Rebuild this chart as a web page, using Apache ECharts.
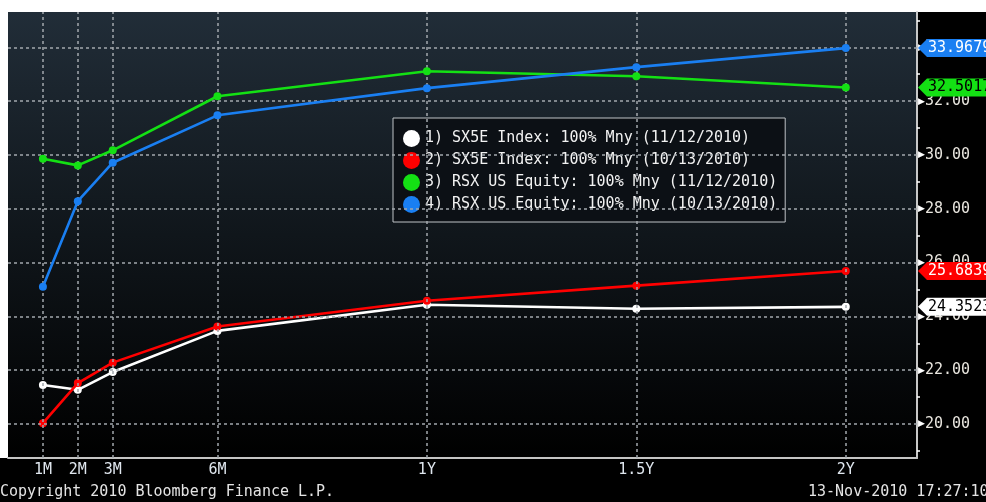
<!DOCTYPE html>
<html>
<head>
<meta charset="utf-8">
<script src="https://cdn.jsdelivr.net/npm/echarts@6/dist/echarts.min.js"></script>
<style>
html,body{margin:0;padding:0;background:#000;}
#chart{width:986px;height:502px;}
</style>
</head>
<body>
<div id="chart"></div>
<script>
// ---- data ----
var tenorMonths = [1, 2, 3, 6, 12, 18, 24];
var tenorLabels = ['1M', '2M', '3M', '6M', '1Y', '1.5Y', '2Y'];
var seriesNames = [
  '1) SX5E Index: 100% Mny (11/12/2010)',
  '2) SX5E Index: 100% Mny (10/13/2010)',
  '3) RSX US Equity: 100% Mny (11/12/2010)',
  '4) RSX US Equity: 100% Mny (10/13/2010)'
];
var sx5eNov = [21.45, 21.27, 21.93, 23.46, 24.43, 24.28, 24.3523];
var sx5eOct = [20.03, 21.52, 22.28, 23.62, 24.58, 25.14, 25.6839];
var rsxNov  = [29.86, 29.61, 30.17, 32.18, 33.11, 32.92, 32.5017];
var rsxOct  = [25.10, 28.28, 29.71, 31.47, 32.48, 33.26, 33.9679];
var yTickValues = [20, 22, 24, 26, 28, 30, 32, 34];
var yMinorTickValues = [19, 21, 23, 25, 27, 29, 31, 33, 35];
var footerLeft = 'Copyright 2010 Bloomberg Finance L.P.';
var footerRight = '13-Nov-2010 17:27:10';

// ---- styles ----
var X_MIN = 0, X_MAX = 26.04, Y_MIN = 18.736, Y_MAX = 35.31;
var MONO = '"DejaVu Sans Mono", "Liberation Mono", monospace';
var colors = ['#ffffff', '#ff0000', '#14e014', '#1a7ff2'];
var tagText = ['#000000', '#ffffff', '#000000', '#ffffff'];
var allData = [sx5eNov, sx5eOct, rsxNov, rsxOct];

function pairs(vals) {
  return tenorMonths.map(function (m, i) { return [m, vals[i]]; });
}

var series = allData.map(function (vals, i) {
  var last = vals[vals.length - 1];
  return {
    name: seriesNames[i],
    type: 'line',
    data: pairs(vals),
    color: colors[i],
    symbol: 'circle',
    symbolSize: 8,
    z: 3 + i,
    lineStyle: { width: 2.6, color: colors[i] },
    itemStyle: { color: colors[i] },
    animation: false,
    markPoint: {
      silent: true,
      symbol: 'path://M0,9 L9,0 L110,0 L110,18 L9,18 Z',
      symbolSize: [110, 18],
      symbolKeepAspect: false,
      symbolOffset: [56, 0],
      itemStyle: { color: colors[i] },
      label: {
        show: true,
        position: 'insideLeft',
        distance: 10,
        overflow: 'none',
        color: tagText[i],
        fontFamily: MONO,
        fontSize: 15,
        formatter: function () { return last.toFixed(4); }
      },
      data: [{ coord: [X_MAX, last] }],
      z: 10
    }
  };
});

// grid lines drawn through the scales
series.unshift({
  name: 'grid',
  type: 'line',
  data: [],
  z: 1,
  silent: true,
  animation: false,
  markLine: {
    silent: true,
    symbol: ['none', 'none'],
    animation: false,
    label: { show: false },
    lineStyle: { color: '#a3a8ad', width: 1.5, type: [3, 3] },
    data: tenorMonths.map(function (m) { return { xAxis: m }; })
      .concat(yTickValues.map(function (v) { return { yAxis: v }; }))
  }
});

var chart = echarts.init(document.getElementById('chart'));
chart.setOption({
  backgroundColor: '#000000',
  animation: false,
  grid: {
    left: 8, right: 69, top: 12, bottom: 44,
    show: true, borderWidth: 0,
    backgroundColor: new echarts.graphic.LinearGradient(0, 0, 0, 1, [
      { offset: 0, color: '#212d38' },
      { offset: 0.5, color: '#10161b' },
      { offset: 1, color: '#000000' }
    ])
  },
  legend: {
    data: seriesNames,
    orient: 'vertical',
    left: 393, top: 118,
    padding: [12, 8, 9, 10],
    itemGap: 5,
    itemWidth: 17, itemHeight: 17,
    icon: 'circle',
    selectedMode: false,
    backgroundColor: '#0c1015',
    borderColor: '#bfc3c7',
    borderWidth: 1,
    textStyle: { color: '#f2f2f2', fontFamily: MONO, fontSize: 15 }
  },
  xAxis: {
    type: 'value', min: X_MIN, max: X_MAX,
    axisLine: { show: true, lineStyle: { color: '#c4c4c4', width: 2 } },
    axisTick: { show: false },
    splitLine: { show: false },
    axisLabel: {
      customValues: tenorMonths,
      color: '#dfe6ee', fontFamily: MONO, fontSize: 15, margin: 5,
      formatter: function (v) {
        var idx = tenorMonths.indexOf(v);
        return idx >= 0 ? tenorLabels[idx] : '';
      }
    }
  },
  yAxis: {
    type: 'value', position: 'right', min: Y_MIN, max: Y_MAX,
    axisLine: { show: true, onZero: false, lineStyle: { color: '#c8c8c8', width: 2 } },
    axisTick: { show: true, customValues: yMinorTickValues, length: 3, inside: false, lineStyle: { color: '#ffffff', width: 1.5 } },
    splitLine: { show: false },
    axisLabel: {
      customValues: yTickValues,
      margin: 1,
      formatter: function (v) { return '{t|\u25B6}{v|' + v.toFixed(2) + '}'; },
      rich: {
        t: { color: '#ffffff', fontSize: 9 },
        v: { color: '#e9e6df', fontFamily: MONO, fontSize: 15 }
      }
    }
  },
  graphic: [
    { type: 'rect', left: 0, top: 0, shape: { width: 986, height: 12 }, style: { fill: '#ffffff' }, silent: true },
    { type: 'rect', left: 0, top: 12, shape: { width: 8, height: 446 }, style: { fill: '#ffffff' }, silent: true },
    { type: 'text', left: 0, top: 485, style: { text: footerLeft, fill: '#e4e4e4', font: '15px ' + MONO } },
    { type: 'text', left: 808, top: 485, style: { text: footerRight, fill: '#e4e4e4', font: '15px ' + MONO } }
  ],
  series: series
});
</script>
</body>
</html>
